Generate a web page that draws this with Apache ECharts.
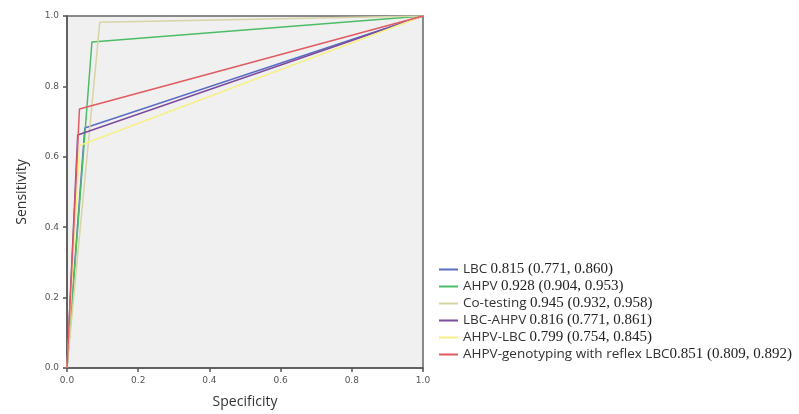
<!DOCTYPE html>
<html>
<head>
<meta charset="utf-8">
<script src="https://cdn.jsdelivr.net/npm/echarts@6/dist/echarts.min.js"></script>
<style>
  html, body { margin: 0; padding: 0; background: #fff; }
  #chart { width: 799px; height: 414px; }
</style>
</head>
<body>
<div id="chart"></div>
<script>
// ROC curves: each test has one cut-off point between (0,0) and (1,1)
const names = ["LBC", "AHPV", "Co-testing", "LBC-AHPV", "AHPV-LBC", "AHPV-genotyping with reflex LBC"];
const aucs = ["0.815 (0.771, 0.860)", "0.928 (0.904, 0.953)", "0.945 (0.932, 0.958)",
              "0.816 (0.771, 0.861)", "0.799 (0.754, 0.845)", "0.851 (0.809, 0.892)"];
const cutX = [0.05, 0.07, 0.092, 0.03, 0.035, 0.035];
const cutY = [0.682, 0.926, 0.982, 0.662, 0.632, 0.736];
const colors = ["#5b6cc4", "#4cbd66", "#d7d4a6", "#7d4b9b", "#f7ef88", "#e05a62"];

const chart = echarts.init(document.getElementById("chart"));

const series = names.map((n, i) => ({
  name: n,
  type: "line",
  data: [[0, 0], [cutX[i], cutY[i]], [1, 1]],
  showSymbol: false,
  lineStyle: { color: colors[i], width: 1.5 },
  itemStyle: { color: colors[i] },
  animation: false
}));

const axisCommon = {
  type: "value",
  min: 0,
  max: 1,
  interval: 0.2,
  axisLine: { show: true, lineStyle: { color: "#555", width: 1.5 } },
  axisTick: { show: true, length: 4, lineStyle: { color: "#555", width: 1.5 } },
  axisLabel: {
    color: "#555",
    fontSize: 9,
    fontFamily: "DejaVu Sans",
    formatter: (v) => v.toFixed(1)
  },
  splitLine: { show: false },
  nameLocation: "middle",
  nameTextStyle: { color: "#333", fontSize: 14, fontFamily: "Open Sans" }
};

chart.setOption({
  backgroundColor: "#fff",
  grid: {
    left: 67, top: 16, width: 356, height: 359,
    show: true, backgroundColor: "#f0f0f0", borderColor: "#666", borderWidth: 1.5
  },
  xAxis: Object.assign({}, axisCommon, { name: "Specificity", nameGap: 27 }),
  yAxis: Object.assign({}, axisCommon, { name: "Sensitivity", nameGap: 38 }),
  legend: {
    orient: "vertical",
    left: 434,
    top: 257,
    icon: "rect",
    itemWidth: 19,
    itemHeight: 2,
    itemGap: 2,
    data: names,
    formatter: (n) => {
      const i = names.indexOf(n);
      const sep = i === 5 ? "" : " ";
      return "{a|" + n + "}" + sep + "{b|" + aucs[i] + "}";
    },
    textStyle: {
      lineHeight: 14,
      rich: {
        a: { fontFamily: "Open Sans", fontSize: 13.5, color: "#333", lineHeight: 14 },
        b: { fontFamily: "Liberation Serif", fontSize: 15, color: "#222", lineHeight: 14 }
      }
    }
  },
  series: series
});
</script>
</body>
</html>
